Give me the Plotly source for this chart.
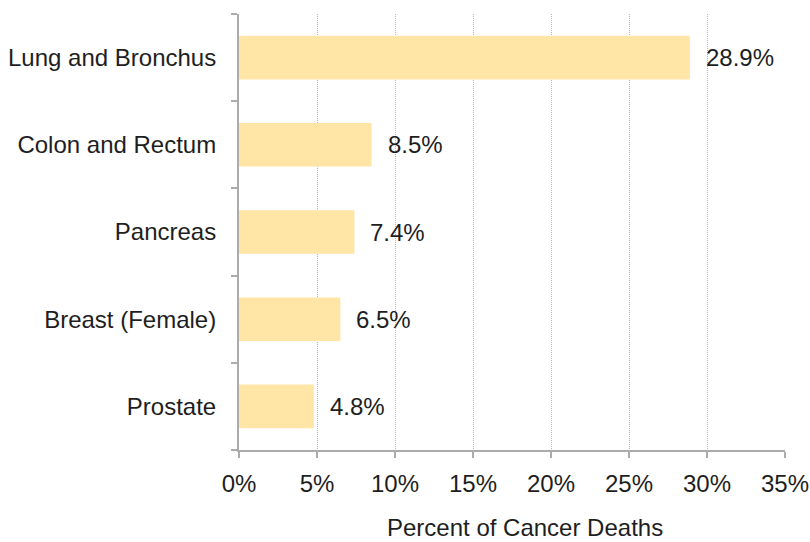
import plotly.graph_objects as go

categories = ["Lung and Bronchus", "Colon and Rectum", "Pancreas", "Breast (Female)", "Prostate"]
values = [28.9, 8.5, 7.4, 6.5, 4.8]
x_ticks = [0, 5, 10, 15, 20, 25, 30, 35]
x_tick_labels = [f"{v}%" for v in x_ticks]
value_labels = [f"{v}%" for v in values]
x_title = "Percent of Cancer Deaths"

font_family = "Liberation Sans, Arial, sans-serif"
axis_color = "#ABABAB"
text_color = "#1E1E1E"
fs = 24

fig = go.Figure(go.Bar(
    x=values,
    y=categories,
    orientation="h",
    marker=dict(color="#FFE6A6", line=dict(width=0)),
    width=0.5,
    hoverinfo="skip",
))

for v, c, lab in zip(values, categories, value_labels):
    fig.add_annotation(
        x=v, y=c, text=lab, showarrow=False,
        xanchor="left", yanchor="middle", xshift=14,
        font=dict(size=fs, color=text_color, family=font_family),
    )

fig.add_annotation(
    xref="paper", yref="paper", x=0.5, y=0, text=x_title, showarrow=False,
    xanchor="center", yanchor="middle", xshift=13, yshift=-77,
    font=dict(size=fs, color=text_color, family=font_family),
)

fig.update_layout(
    width=810, height=542,
    margin=dict(l=239, r=25, t=14, b=92, autoexpand=False),
    plot_bgcolor="white", paper_bgcolor="white",
    showlegend=False,
    font=dict(family=font_family, size=fs, color=text_color),
    xaxis=dict(
        range=[0, 35],
        tickvals=x_ticks, ticktext=x_tick_labels,
        showgrid=True, gridcolor="#B4B4B4", griddash="1px,1px", gridwidth=1,
        showline=True, linecolor=axis_color, linewidth=2,
        ticks="outside", ticklen=6, tickcolor=axis_color, tickwidth=2,
        zeroline=False, automargin=False,
        ticklabelstandoff=5,
        tickfont=dict(size=fs),
    ),
    yaxis=dict(
        categoryorder="array", categoryarray=categories[::-1],
        showline=True, linecolor=axis_color, linewidth=2,
        ticks="outside", ticklen=6, tickcolor=axis_color, tickwidth=2,
        tickson="boundaries",
        showgrid=False, automargin=False,
        ticklabelstandoff=16,
        tickfont=dict(size=fs),
    ),
)

fig.write_html(
    "out.html",
    config={"displayModeBar": False},
    post_script="document.body.style.margin='0';document.body.style.overflow='hidden';",
)
